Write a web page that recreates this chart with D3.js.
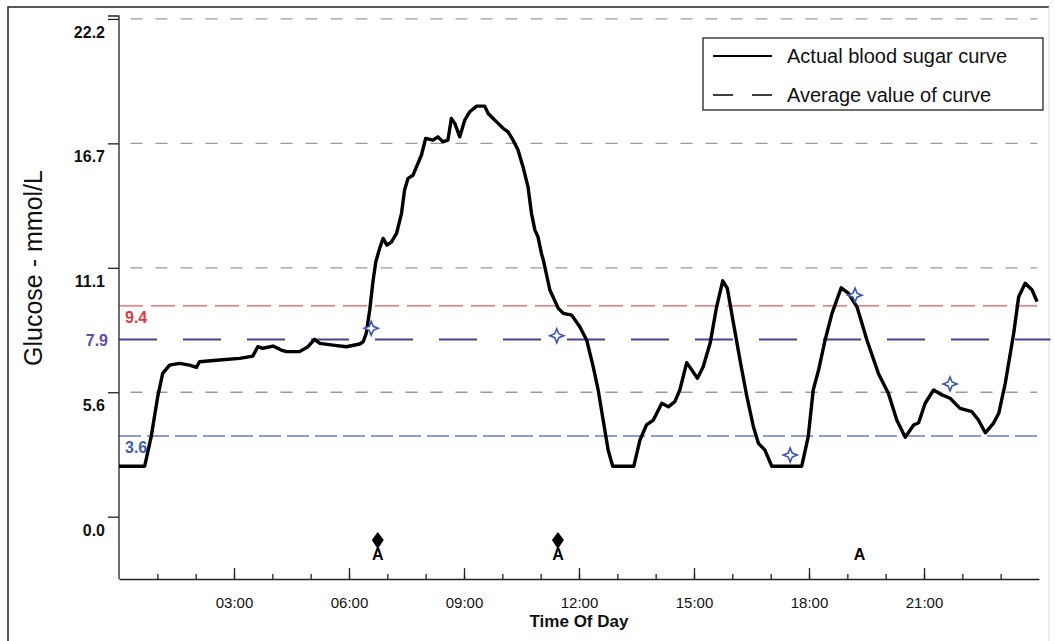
<!DOCTYPE html>
<html>
<head>
<meta charset="utf-8">
<script src="https://cdn.jsdelivr.net/npm/d3@7"></script>
<style>
  body { margin: 0; background: #fff; }
  svg { display: block; font-family: "Liberation Sans", Arial, sans-serif; }
</style>
</head>
<body>
<div id="chart"></div>
<script>
/* Glucose curve over a day */

// blood sugar curve, hours of day vs mmol/L
const curveHours = [0, 0.67, 0.84, 1.01, 1.14, 1.32, 1.58, 1.84, 2.02, 2.10, 2.62, 3.15, 3.49, 3.62, 3.75,
  4.02, 4.23, 4.37, 4.71, 4.93, 5.10, 5.24, 5.58, 5.93, 6.28, 6.37, 6.45, 6.54, 6.63, 6.70, 6.80, 6.89,
  6.99, 7.11, 7.24, 7.37, 7.45, 7.54, 7.67, 7.76, 7.89, 8.00, 8.19, 8.32, 8.45, 8.58, 8.67, 8.76, 8.89,
  9.02, 9.15, 9.33, 9.54, 9.63, 9.76, 9.89, 10.02, 10.15, 10.28, 10.41, 10.54, 10.67, 10.76, 10.85, 10.93,
  11.02, 11.07, 11.24, 11.46, 11.59, 11.81, 12.02, 12.20, 12.37, 12.50, 12.63, 12.76, 12.88, 13.43, 13.59,
  13.76, 13.94, 14.16, 14.33, 14.50, 14.63, 14.81, 15.09, 15.24, 15.42, 15.59, 15.75, 15.87, 16.03, 16.20,
  16.38, 16.55, 16.68, 16.85, 17.03, 17.81, 17.98, 18.11, 18.25, 18.42, 18.60, 18.84, 19.03, 19.25, 19.33,
  19.51, 19.81, 20.07, 20.29, 20.51, 20.73, 20.86, 21.03, 21.25, 21.47, 21.68, 21.94, 22.25, 22.42, 22.60,
  22.81, 22.95, 23.12, 23.34, 23.47, 23.64, 23.82, 23.95];
const curveValues = [2.25, 2.25, 3.57, 5.35, 6.39, 6.76, 6.84, 6.76, 6.66, 6.91, 6.99, 7.06, 7.16, 7.58, 7.51,
  7.61, 7.43, 7.36, 7.36, 7.58, 7.91, 7.73, 7.65, 7.58, 7.70, 7.80, 8.18, 9.22, 10.55, 11.37, 11.97, 12.41,
  12.11, 12.26, 12.63, 13.53, 14.57, 15.09, 15.23, 15.60, 16.13, 16.87, 16.79, 16.94, 16.72, 16.79, 17.76, 17.54, 16.94,
  17.69, 18.06, 18.31, 18.31, 17.98, 17.76, 17.54, 17.32, 17.16, 16.79, 16.35, 15.60, 14.71, 13.53, 12.78, 12.48,
  11.74, 11.44, 10.11, 9.29, 9.07, 8.99, 8.47, 7.88, 6.69, 5.65, 4.31, 2.97, 2.25, 2.25, 3.42,
  4.09, 4.31, 5.06, 4.90, 5.13, 5.65, 6.87, 6.17, 6.69, 7.73, 9.36, 10.52, 10.18, 8.62, 6.99,
  5.35, 4.01, 3.27, 2.97, 2.25, 2.25, 3.57, 5.65, 6.54, 7.88, 9.07, 10.21, 9.96, 9.36, 8.92,
  7.88, 6.39, 5.50, 4.31, 3.54, 4.09, 4.19, 5.06, 5.65, 5.43, 5.28, 4.83, 4.68, 4.31, 3.74,
  4.16, 4.61, 5.95, 8.18, 9.81, 10.41, 10.11, 9.59];

// blue check points
const pointHours = [6.58, 11.42, 17.51, 19.20, 21.68];
const pointValues = [8.40, 8.07, 2.75, 9.88, 5.92];

// event markers under the curve
const eventHours = [6.75, 11.45, 19.32];
const eventHasDiamond = [true, true, false];

// reference lines
const limitValues = [9.4, 7.9, 3.6];
const limitLabels = ["9.4", "7.9", "3.6"];

const yTickValues = [0, 5.55, 11.1, 16.65, 22.2];
const yTickLabels = ["0.0", "5.6", "11.1", "16.7", "22.2"];
const gridValues = [5.55, 11.1, 16.65, 22.2];
const xMajorHours = [3, 6, 9, 12, 15, 18, 21];
const xTickLabels = ["03:00", "06:00", "09:00", "12:00", "15:00", "18:00", "21:00"];
const xMinorHours = d3.range(1, 24);

const width = 1055,
      height = 641,
      margin = ({ top: 16, right: 16, bottom: 62, left: 119 });

let svg = d3.select("#chart")
    .append("svg")
    .attr("width", width)
    .attr("height", height);

let x = d3.scaleLinear()
    .domain([0, 24])
    .range([margin.left, width - margin.right]);

let y = d3.scaleLinear()
    .domain([-2.78, 22.33])
    .range([height - margin.bottom, margin.top]);

// outer frame
svg.append("path")
    .attr("d", "M8,641 L8,7 L1049,7")
    .attr("fill", "none")
    .attr("stroke", "#222")
    .attr("stroke-width", 1.5);
svg.append("line")
    .attr("x1", 1049).attr("x2", 1049).attr("y1", 7).attr("y2", 641)
    .attr("stroke", "#ddd");

// grey dashed grid
svg.append("g")
    .selectAll("line")
    .data(gridValues)
    .join("line")
    .attr("x1", x(0.3)).attr("x2", x(23.95))
    .attr("y1", d => y(d)).attr("y2", d => y(d))
    .attr("stroke", "#9a9a9a")
    .attr("stroke-width", 1.3)
    .attr("stroke-dasharray", "12,13");

// limit lines
const limitColors = ["#e05a5a", "#4d3f98", "#5f80c4"];
const limitDash = ["24,8", "38,26", "22,6"];
svg.append("g")
    .selectAll("line")
    .data(limitValues)
    .join("line")
    .attr("x1", x(0)).attr("x2", (d, i) => i == 1 ? x(24.3) : x(23.95))
    .attr("y1", d => y(d)).attr("y2", d => y(d))
    .attr("stroke", (d, i) => limitColors[i])
    .attr("stroke-width", (d, i) => i == 1 ? 2 : 1.4)
    .attr("stroke-dasharray", (d, i) => limitDash[i]);

const labelColors = ["#d83c3c", "#5a4ea6", "#3d5fae"];
svg.append("g")
    .selectAll("text")
    .data(limitValues)
    .join("text")
    .attr("x", (d, i) => i == 1 ? 108 : 125)
    .attr("y", d => y(d) + 17)
    .attr("dy", (d, i) => i == 1 ? -11 : 0)
    .attr("text-anchor", (d, i) => i == 1 ? "end" : "start")
    .attr("font-size", 16)
    .attr("font-weight", 600)
    .attr("fill", (d, i) => labelColors[i])
    .text((d, i) => limitLabels[i]);

// axes
let yAxis = svg.append("g")
    .attr("transform", `translate(${margin.left},0)`)
    .call(d3.axisLeft(y)
        .tickValues(yTickValues)
        .tickFormat((d, i) => yTickLabels[i])
        .tickSize(11)
        .tickPadding(3));
yAxis.select(".domain").attr("d", `M-11,${y(22.33)}H0V${y(-2.78)}`);
yAxis.selectAll("text")
    .attr("dy", "1.15em")
    .attr("font-size", 16)
    .attr("font-weight", "bold")
    .attr("font-family", "Liberation Sans, Arial, sans-serif")
    .attr("fill", "#111");
yAxis.selectAll("line, path").attr("stroke", "#222").attr("stroke-width", 1.3);

let xMinor = svg.append("g")
    .attr("transform", `translate(0,${height - margin.bottom})`)
    .call(d3.axisBottom(x)
        .tickValues(xMinorHours)
        .tickFormat("")
        .tickSize(-5)
        .tickSizeOuter(0));
xMinor.selectAll("line, path").attr("stroke", "#222").attr("stroke-width", 1.3);

let xMajor = svg.append("g")
    .attr("transform", `translate(0,${height - margin.bottom})`)
    .call(d3.axisBottom(x)
        .tickValues(xMajorHours)
        .tickFormat((d, i) => xTickLabels[i])
        .tickSize(-11)
        .tickSizeOuter(0)
        .tickPadding(18));
xMajor.select(".domain").remove();
xMajor.selectAll("line").attr("stroke", "#222").attr("stroke-width", 1.3);
xMajor.selectAll("text")
    .attr("font-size", 15)
    .attr("font-family", "Liberation Sans, Arial, sans-serif")
    .attr("fill", "#111");

svg.append("text")
    .attr("x", x(12))
    .attr("y", 627)
    .attr("text-anchor", "middle")
    .attr("font-size", 17)
    .attr("font-weight", "bold")
    .attr("fill", "#111")
    .text("Time Of Day");

svg.append("text")
    .attr("transform", `translate(42,268) rotate(-90)`)
    .attr("text-anchor", "middle")
    .attr("font-size", 25)
    .attr("fill", "#111")
    .text("Glucose - mmol/L");

// the curve
let line = d3.line()
    .x((d, i) => x(curveHours[i]))
    .y(d => y(d));

svg.append("path")
    .datum(curveValues)
    .attr("fill", "none")
    .attr("stroke", "#000")
    .attr("stroke-width", 3.4)
    .attr("stroke-linejoin", "round")
    .attr("d", line);

// blue check points
const star = "M0,-7 L2,-2 L7,0 L2,2 L0,7 L-2,2 L-7,0 L-2,-2 Z";
svg.append("g")
    .selectAll("path")
    .data(pointValues)
    .join("path")
    .attr("transform", (d, i) => `translate(${x(pointHours[i])},${y(d)})`)
    .attr("d", star)
    .attr("fill", "#fff")
    .attr("stroke", "#3a55b0")
    .attr("stroke-width", 1.6);

// event markers
let ev = svg.append("g")
    .selectAll("g")
    .data(eventHours)
    .join("g")
    .attr("transform", d => `translate(${x(d)},0)`);

ev.filter((d, i) => eventHasDiamond[i])
    .append("path")
    .attr("d", "M0,532 L6,540 L0,549 L-6,540 Z")
    .attr("fill", "#000");

ev.append("text")
    .attr("y", 560)
    .attr("text-anchor", "middle")
    .attr("font-size", 16)
    .attr("font-weight", "bold")
    .attr("fill", "#000")
    .text("A");

// legend
let legend = svg.append("g").attr("transform", "translate(703,38)");
legend.append("rect")
    .attr("width", 340)
    .attr("height", 72)
    .attr("fill", "#fff")
    .attr("stroke", "#222")
    .attr("stroke-width", 1.3);
legend.append("line")
    .attr("x1", 10).attr("x2", 69).attr("y1", 18).attr("y2", 18)
    .attr("stroke", "#000").attr("stroke-width", 2);
legend.append("line")
    .attr("x1", 10).attr("x2", 69).attr("y1", 57).attr("y2", 57)
    .attr("stroke", "#000").attr("stroke-width", 1.5)
    .attr("stroke-dasharray", "20,19");
legend.append("text")
    .attr("x", 84).attr("y", 25)
    .attr("font-size", 20)
    .attr("fill", "#111")
    .text("Actual blood sugar curve");
legend.append("text")
    .attr("x", 84).attr("y", 64)
    .attr("font-size", 20)
    .attr("fill", "#111")
    .text("Average value of curve");
</script>
</body>
</html>
